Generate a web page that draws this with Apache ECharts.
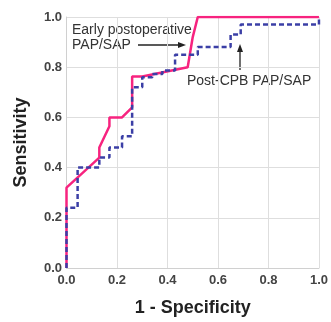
<!DOCTYPE html>
<html><head><meta charset="utf-8">
<script src="https://cdn.jsdelivr.net/npm/echarts@6/dist/echarts.min.js"></script>
<style>html,body{margin:0;padding:0;background:#fff}#c{width:331px;height:322px}</style>
</head><body><div id="c"></div>
<script>
const tickLabels = ['0.0','0.2','0.4','0.6','0.8','1.0'];
const earlyX = [0,0,0.13,0.13,0.17,0.17,0.22,0.26,0.26,0.30,0.48,0.50,0.52,1.0];
const earlyY = [0,0.32,0.44,0.48,0.565,0.60,0.60,0.64,0.763,0.763,0.80,0.92,1.0,1.0];
const postX = [0,0,0.044,0.044,0.13,0.13,0.17,0.17,0.22,0.22,0.26,0.26,0.30,0.30,0.34,0.34,0.38,0.38,0.43,0.43,0.52,0.52,0.65,0.65,0.69,0.69,1.0,1.0];
const postY = [0,0.24,0.24,0.40,0.40,0.44,0.44,0.48,0.48,0.525,0.525,0.72,0.72,0.76,0.76,0.773,0.773,0.787,0.787,0.85,0.85,0.88,0.88,0.93,0.93,0.97,0.97,1.0];
const pair = (xs, ys) => xs.map((x, i) => [x, ys[i]]);
const chart = echarts.init(document.getElementById('c'));
const axisCommon = {
  type: 'value', min: 0, max: 1, interval: 0.2,
  axisLine: {show: true, lineStyle: {color: '#d0d0d0'}},
  axisTick: {show: false},
  splitLine: {show: true, lineStyle: {color: '#dedede', width: 1}},
  axisLabel: {color: '#444', fontFamily: 'Liberation Sans', fontWeight: 'bold', fontSize: 13,
    formatter: v => tickLabels[Math.round(v * 5)]},
  nameLocation: 'middle',
  nameTextStyle: {color: '#222', fontFamily: 'Liberation Sans', fontWeight: 'bold', fontSize: 18}
};
chart.setOption({
  animation: false,
  grid: {left: 66.5, right: 8, top: 17, bottom: 50},
  xAxis: Object.assign({}, axisCommon, {name: '1 - Specificity', nameGap: 31,
    axisLabel: Object.assign({}, axisCommon.axisLabel, {margin: 6})}),
  yAxis: Object.assign({}, axisCommon, {name: 'Sensitivity', nameGap: 36,
    axisLabel: Object.assign({}, axisCommon.axisLabel, {margin: 4.5})}),
  series: [
    {type: 'line', data: pair(postX, postY), symbol: 'none', z: 3,
      lineStyle: {color: '#3b3fa6', width: 2.5, type: [5, 3]}},
    {type: 'line', data: pair(earlyX, earlyY), symbol: 'none', z: 2,
      lineStyle: {color: '#f7237f', width: 2.5}}
  ],
  graphic: [
    {type: 'text', left: 72, top: 22.5, style: {text: 'Early postoperative\nPAP/SAP', fill: '#333',
      font: '14px "Liberation Sans"', lineHeight: 15}},
    {type: 'line', shape: {x1: 138, y1: 45, x2: 180, y2: 45}, style: {stroke: '#222', lineWidth: 1.3}},
    {type: 'polygon', shape: {points: [[186, 45], [178, 42], [178, 48]]}, style: {fill: '#222'}},
    {type: 'text', left: 187, top: 74, style: {text: 'Post-CPB PAP/SAP', fill: '#333',
      font: '14px "Liberation Sans"'}},
    {type: 'line', shape: {x1: 240, y1: 70, x2: 240, y2: 51}, style: {stroke: '#222', lineWidth: 1.3}},
    {type: 'polygon', shape: {points: [[240, 44], [237, 52], [243, 52]]}, style: {fill: '#222'}}
  ]
});
</script></body></html>
